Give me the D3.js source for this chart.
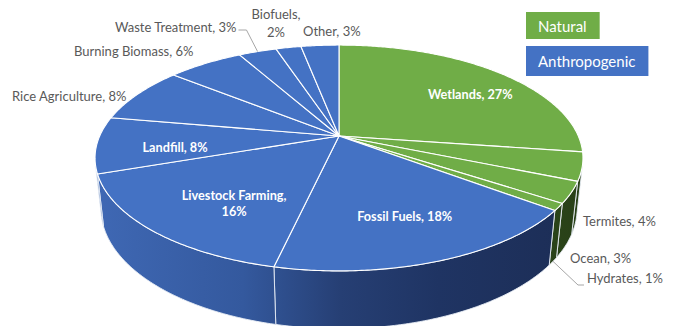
<!DOCTYPE html>
<html>
<head>
<meta charset="utf-8">
<script src="https://cdn.jsdelivr.net/npm/d3@7/dist/d3.min.js"></script>
<style>
  html, body { margin: 0; padding: 0; background: #fff; }
  svg { display: block; }
  text { font-family: Lato, "Open Sans", sans-serif; }
</style>
</head>
<body>
<svg id="chart" width="677" height="326"></svg>
<script>
// Methane emission sources, share of total (%)
const categories = ["Wetlands", "Termites", "Ocean", "Hydrates", "Fossil Fuels",
  "Livestock Farming", "Landfill", "Rice Agriculture", "Burning Biomass",
  "Waste Treatment", "Biofuels", "Other"];
const shares = [27, 4, 3, 1, 18, 16, 8, 8, 6, 3, 2, 3];
const sourceGroup = ["Natural", "Natural", "Natural", "Natural", "Anthropogenic",
  "Anthropogenic", "Anthropogenic", "Anthropogenic", "Anthropogenic",
  "Anthropogenic", "Anthropogenic", "Anthropogenic"];
const groups = ["Natural", "Anthropogenic"];

const svg = d3.select("#chart");

const topColor = d3.scaleOrdinal().domain(groups).range(["#70ad47", "#4472c4"]);
const sideFill = d3.scaleOrdinal().domain(groups).range(["url(#sideGreen)", "url(#sideBlue)"]);

// ---- 3D disc seen in perspective ----
const tilt = 27 * Math.PI / 180;     // camera elevation
const camDist = 4.576;               // camera distance (disc radius = 1)
const focal = 1095;                  // focal length in px
const cx = 339, cy = 136;            // projected centre of the top face
const thick = 0.24;                  // disc thickness
const sinT = Math.sin(tilt), cosT = Math.cos(tilt);

function project(theta, r, Y) {
  const X = r * Math.sin(theta);
  const Z = -r * Math.cos(theta);
  const yc = Y * cosT - Z * sinT;
  const depth = camDist - Y * sinT - Z * cosT;
  return [cx + focal * X / depth, cy - focal * yc / depth];
}

// angular range where the rim faces the camera
const visLimit = Math.acos(-1 / (camDist * cosT));
const visStart = visLimit, visEnd = 2 * Math.PI - visLimit;

const pie = d3.pie().sort(null).value(d => d.value).startAngle(0).endAngle(2 * Math.PI);
const data = categories.map((name, i) => ({ name, value: shares[i], group: sourceGroup[i] }));
const arcs = pie(data);

// gradients for the rim
const defs = svg.append("defs");
function rimGradient(id, stops) {
  const g = defs.append("linearGradient").attr("id", id)
    .attr("gradientUnits", "userSpaceOnUse")
    .attr("x1", 96).attr("y1", 0).attr("x2", 585).attr("y2", 0);
  stops.forEach(([o, c]) => g.append("stop").attr("offset", o).attr("stop-color", c));
}
rimGradient("sideBlue", [[0, "#3f68b4"], [0.3, "#34599e"], [0.5, "#263f74"], [0.7, "#1f3463"], [1, "#1c2d55"]]);
rimGradient("sideGreen", [[0, "#3a5e22"], [0.8, "#2f4c1c"], [1, "#283f17"]]);

const line = d3.line();

function sampleArc(a0, a1, r, Y) {
  const n = Math.max(2, Math.ceil((a1 - a0) / 0.01));
  const pts = [];
  for (let k = 0; k <= n; k++) pts.push(project(a0 + (a1 - a0) * k / n, r, Y));
  return pts;
}

// rim (side wall)
const rim = svg.append("g");
arcs.forEach(a => {
  const s = Math.max(a.startAngle, visStart), e = Math.min(a.endAngle, visEnd);
  if (e <= s) return;
  const topPts = sampleArc(s, e, 1, 0);
  const botPts = sampleArc(s, e, 1, -thick).reverse();
  rim.append("path")
    .attr("d", line(topPts.concat(botPts)) + "Z")
    .attr("fill", sideFill(a.data.group))
    .attr("stroke", "#e8edf5").attr("stroke-width", 0.9).attr("stroke-linejoin", "round");
});

// top face
const topFace = svg.append("g");
arcs.forEach(a => {
  const pts = [project(0, 0, 0)].concat(sampleArc(a.startAngle, a.endAngle, 1, 0));
  topFace.append("path")
    .attr("d", line(pts) + "Z")
    .attr("fill", topColor(a.data.group))
    .attr("stroke", "#ffffff").attr("stroke-width", 1.1).attr("stroke-linejoin", "round");
});

const mid = a => (a.startAngle + a.endAngle) / 2;
const byName = Object.fromEntries(arcs.map(a => [a.data.name, a]));
const labelText = d => `${d.name}, ${d.value}%`;

// labels drawn on the top face
const inside = {
  "Wetlands": { r: 0.8, dy: 11 },
  "Fossil Fuels": { r: 0.7, dy: 0 },
  "Livestock Farming": { r: 0.6, dy: 15, split: true },
  "Landfill": { r: 0.68, dy: 7 }
};
const gIn = svg.append("g").attr("fill", "#ffffff").attr("font-weight", 700)
  .attr("font-size", 12.7).attr("text-anchor", "middle");
Object.entries(inside).forEach(([name, o]) => {
  const a = byName[name];
  const [x, y] = project(mid(a), o.r, 0);
  const t = gIn.append("text").attr("x", x).attr("y", y + o.dy).attr("dominant-baseline", "middle");
  if (o.split) {
    t.append("tspan").attr("x", x).attr("dy", "-0.6em").text(a.data.name + ",");
    t.append("tspan").attr("x", x).attr("dy", "1.3em").text(a.data.value + "%");
  } else {
    t.text(labelText(a.data));
  }
});

// labels placed around the disc
const outside = {
  "Rice Agriculture": { x: 12, y: 101 },
  "Burning Biomass": { x: 74, y: 56 },
  "Waste Treatment": { x: 115, y: 32, leader: true },
  "Biofuels": { x: 276, y: 19, split: true, anchor: "middle" },
  "Other": { x: 303, y: 36 },
  "Termites": { x: 583, y: 226 },
  "Ocean": { x: 570, y: 263 },
  "Hydrates": { x: 587, y: 283, leader: true }
};
const gOut = svg.append("g").attr("fill", "#595959").attr("font-size", 13);
const gLead = svg.append("g").attr("fill", "none").attr("stroke", "#a6a6a6").attr("stroke-width", 1);
Object.entries(outside).forEach(([name, o]) => {
  const a = byName[name];
  const t = gOut.append("text").attr("x", o.x).attr("y", o.y).attr("text-anchor", o.anchor || "start");
  if (o.split) {
    t.append("tspan").attr("x", o.x).text(a.data.name + ",");
    t.append("tspan").attr("x", o.x).attr("dy", "1.35em").text(a.data.value + "%");
  } else {
    t.text(labelText(a.data));
  }
  if (o.leader) {
    const bb = t.node().getBBox();
    if (name === "Waste Treatment") {
      const end = project(mid(a), 1, 0);
      const ly = bb.y + bb.height - 5;
      gLead.append("path").attr("d", line([[bb.x + bb.width + 2, ly], [bb.x + bb.width + 10, ly], end]));
    } else {
      const end = project(mid(a), 1, -thick);
      const ly = bb.y + bb.height - 1;
      gLead.append("path").attr("d", line([end, [bb.x - 9, ly], [bb.x - 3, ly]]));
    }
  }
});

// legend
const legend = svg.append("g").attr("font-size", 15);
const legendRows = [{ y: 12, h: 27 }, { y: 46, h: 30 }];
groups.forEach((gname, i) => {
  const row = legendRows[i];
  const rect = legend.append("rect").attr("x", 526).attr("y", row.y).attr("height", row.h)
    .attr("fill", topColor(gname));
  const t = legend.append("text").attr("x", 538).attr("y", row.y + row.h / 2)
    .attr("dominant-baseline", "central").attr("fill", "#ffffff").text(gname);
  rect.attr("width", t.node().getComputedTextLength() + 25);
});
</script>
</body>
</html>
